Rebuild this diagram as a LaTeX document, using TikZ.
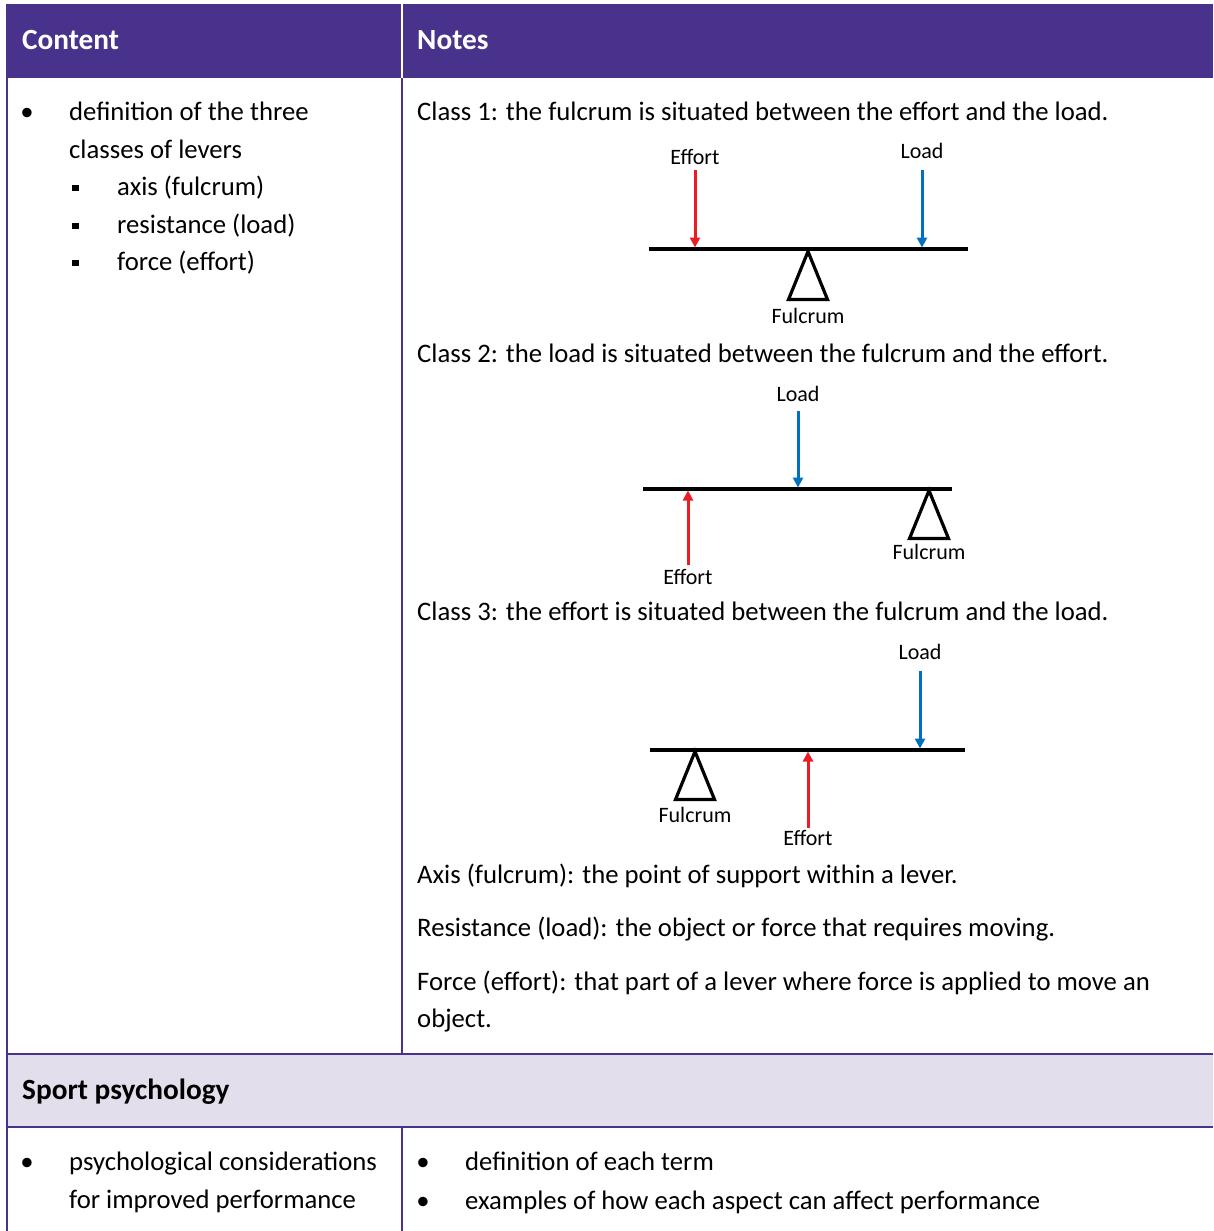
\documentclass[tikz,border=0pt]{standalone}
\usepackage{fontspec}
\setmainfont{Carlito}
\definecolor{HeadPurple}{RGB}{72,50,140}
\definecolor{BandLilac}{RGB}{227,222,236}
\definecolor{EffortRed}{RGB}{237,28,36}
\definecolor{LoadBlue}{RGB}{0,112,192}
\usetikzlibrary{arrows.meta, positioning, calc}

\begin{document}
\begin{tikzpicture}[x=1pt, y=-1pt,
        body/.style={anchor=base west, inner sep=0pt, font=\fontsize{26.7}{32}\selectfont},
        head/.style={body, font=\fontsize{29.3}{35}\selectfont\bfseries},
        dot/.style={anchor=base, inner sep=0pt, font=\fontsize{26.7}{32}\selectfont},
        sqbullet/.style={fill=black, minimum size=6.5pt, inner sep=0pt},
        tag/.style={inner sep=0pt, font=\fontsize{22}{26}\selectfont},
        beam/.style={line width=3.2pt},
        pivot/.style={line width=3.2pt, line join=miter},
        effort/.style={EffortRed, line width=3pt, -{Triangle[length=10pt,width=10pt]}},
        load/.style={LoadBlue, line width=3pt, -{Triangle[length=10pt,width=10pt]}},
        rule/.style={HeadPurple, line width=2pt}
    ]
        \useasboundingbox (0,0) rectangle (1213,1231);

        % table frame
        \fill[HeadPurple] (6,4) rectangle (1213,78);
        \draw[white, line width=2pt] (402,4) -- (402,78);
        \fill[BandLilac] (6,1054) rectangle (1213,1127);
        \draw[rule] (7,78) -- (7,1231);
        \draw[rule] (402,78) -- (402,1054);
        \draw[rule] (402,1127) -- (402,1231);
        \draw[rule] (6,1054) -- (1213,1054);
        \draw[rule] (6,1127) -- (1213,1127);

        \node[head, text=white] (hcontent) at (22,49.5) {Content};
        \node[head, text=white] (hnotes) at (417,49.5) {Notes};

        % content column
        \node[dot] (d1) at (27,120.5) {•};
        \node[body] (c1) at (69,120.5) {definition of the three};
        \node[body] (c2) at (69,158.5) {classes of levers};
        \node[sqbullet] (s1) at (75.5,188) {};
        \node[body] (c3) at (117,195.5) {axis (fulcrum)};
        \node[sqbullet] (s2) at (75.5,226) {};
        \node[body] (c4) at (117,233.5) {resistance (load)};
        \node[sqbullet] (s3) at (75.5,263) {};
        \node[body] (c5) at (117,270.5) {force (effort)};

        % notes column
        \node[body] (n1) at (417,120.5) {Class 1: the fulcrum is situated between the effort and the load.};
        \node[body] (n2) at (417,362.5) {Class 2: the load is situated between the fulcrum and the effort.};
        \node[body] (n3) at (417,620.5) {Class 3: the effort is situated between the fulcrum and the load.};
        \node[body] (n4) at (417,883.5) {Axis (fulcrum): the point of support within a lever.};
        \node[body] (n5) at (417,936.5) {Resistance (load): the object or force that requires moving.};
        \node[body] (n6) at (417,990.5) {Force (effort): that part of a lever where force is applied to move an};
        \node[body] (n7) at (417,1027.5) {object.};

        % class 1 lever
        \coordinate (b1w) at (649,249);
        \coordinate (b1e) at (968,249);
        \draw[beam] (b1w) -- (b1e);
        \node[tag] (eff1) at (695,157) {Effort};
        \node[tag] (load1) at (922,151) {Load};
        \node[tag] (ful1) at (808,316) {Fulcrum};
        \draw[effort] ([yshift=-5pt]eff1.south) -- ([yshift=1.5pt]eff1 |- b1w);
        \draw[load] ([yshift=-11pt]load1.south) -- ([yshift=1.5pt]load1 |- b1w);
        \draw[pivot] ([yshift=-2.5pt]ful1 |- b1w) -- ++(-19.5,48) -- ++(39,0) -- cycle;

        % class 2 lever
        \coordinate (b2w) at (643,489);
        \coordinate (b2e) at (952,489);
        \draw[beam] (b2w) -- (b2e);
        \node[tag] (load2) at (798,394) {Load};
        \node[tag] (eff2) at (688,577) {Effort};
        \node[tag] (ful2) at (929,552) {Fulcrum};
        \draw[load] ([yshift=-9pt]load2.south) -- ([yshift=1.5pt]load2 |- b2w);
        \draw[effort] ([yshift=4pt]eff2.north) -- ([yshift=-1.5pt]eff2 |- b2w);
        \draw[pivot] ([yshift=-1.5pt]ful2 |- b2w) -- ++(-19.5,48) -- ++(39,0) -- cycle;

        % class 3 lever
        \coordinate (b3w) at (650,750);
        \coordinate (b3e) at (965,750);
        \draw[beam] (b3w) -- (b3e);
        \node[tag] (load3) at (920,652) {Load};
        \node[tag] (eff3) at (808,838) {Effort};
        \node[tag] (ful3) at (695,815) {Fulcrum};
        \draw[load] ([yshift=-11pt]load3.south) -- ([yshift=1.5pt]load3 |- b3w);
        \draw[effort] ([yshift=2pt]eff3.north) -- ([yshift=-1.5pt]eff3 |- b3w);
        \draw[pivot] ([yshift=-1.5pt]ful3 |- b3w) -- ++(-19.5,48) -- ++(39,0) -- cycle;

        % sport psychology
        \node[head] (sport) at (22,1099.5) {Sport psychology};
        \node[dot] (d2) at (27,1170.5) {•};
        \node[body] (p1) at (69,1170.5) {psychological considerations};
        \node[body] (p2) at (69,1208.5) {for improved performance};
        \node[dot] (d3) at (423,1170.5) {•};
        \node[body] (q1) at (465,1170.5) {definition of each term};
        \node[dot] (d4) at (423,1209.5) {•};
        \node[body] (q2) at (465,1209.5) {examples of how each aspect can affect performance};
    \end{tikzpicture}
\end{document}
